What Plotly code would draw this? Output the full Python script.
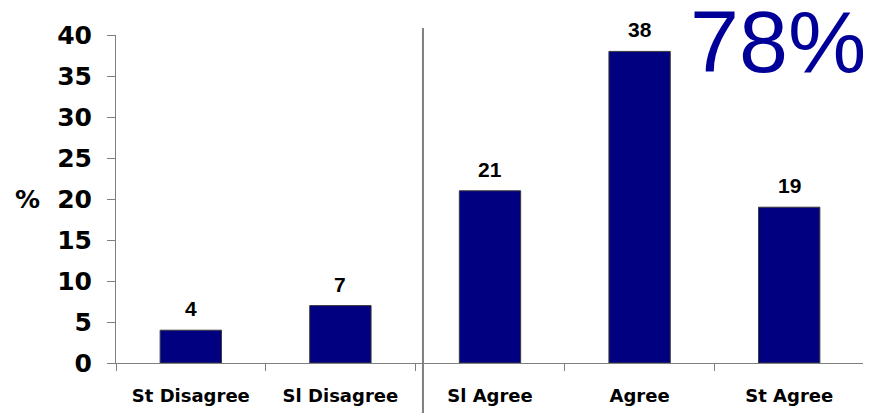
import plotly.graph_objects as go

categories = ["St Disagree", "Sl Disagree", "Sl Agree", "Agree", "St Agree"]
values = [4, 7, 21, 38, 19]
y_ticks = [0, 5, 10, 15, 20, 25, 30, 35, 40]
agree_total_label = "78%"

bar_color = "#000080"
axis_color = "#7f7f7f"

fig = go.Figure()
fig.add_trace(go.Bar(
    x=categories, y=values, width=0.41,
    marker=dict(color=bar_color, line=dict(color="#3a3a3a", width=1)),
    hoverinfo="skip",
))

for c, v in zip(categories, values):
    fig.add_annotation(x=c, y=v, text=f"<b>{v}</b>", showarrow=False,
                       yanchor="bottom", yshift=8,
                       font=dict(family="Liberation Sans", size=21, color="black"))

fig.add_annotation(xref="paper", yref="paper", x=1.0, y=1.137, xshift=4,
                   text=agree_total_label,
                   showarrow=False, xanchor="right", yanchor="top",
                   font=dict(family="Liberation Sans", size=88, color="#000099"))

fig.add_annotation(xref="paper", yref="y", x=-0.118, y=20, text="<b>%</b>",
                   showarrow=False, xanchor="center", yanchor="middle",
                   font=dict(family="DejaVu Sans", size=25, color="black"))

fig.add_shape(type="line", xref="x", yref="paper", x0=1.552, x1=1.552,
              y0=1.021, y1=-0.17, line=dict(color="#808080", width=2))

fig.update_layout(
    width=863, height=405,
    margin=dict(l=108, r=7, t=27, b=50),
    paper_bgcolor="white", plot_bgcolor="white",
    showlegend=False,
    xaxis=dict(
        type="category", range=[-0.5, 4.5], automargin=False,
        showline=True, linecolor=axis_color, linewidth=1,
        ticks="outside", tickson="boundaries", ticklen=7, tickcolor=axis_color,
        tickfont=dict(family="DejaVu Sans", size=18, color="black", weight="bold"),
        showgrid=False, zeroline=False, ticklabelstandoff=16,
    ),
    yaxis=dict(
        range=[0, 40], tickvals=y_ticks, automargin=False,
        showline=True, linecolor=axis_color, linewidth=1,
        ticks="outside", ticklen=8, tickcolor=axis_color,
        tickfont=dict(family="DejaVu Sans", size=25, color="black", weight="bold"),
        showgrid=False, zeroline=False, ticklabelstandoff=10,
    ),
)

fig.write_html("out.html")
